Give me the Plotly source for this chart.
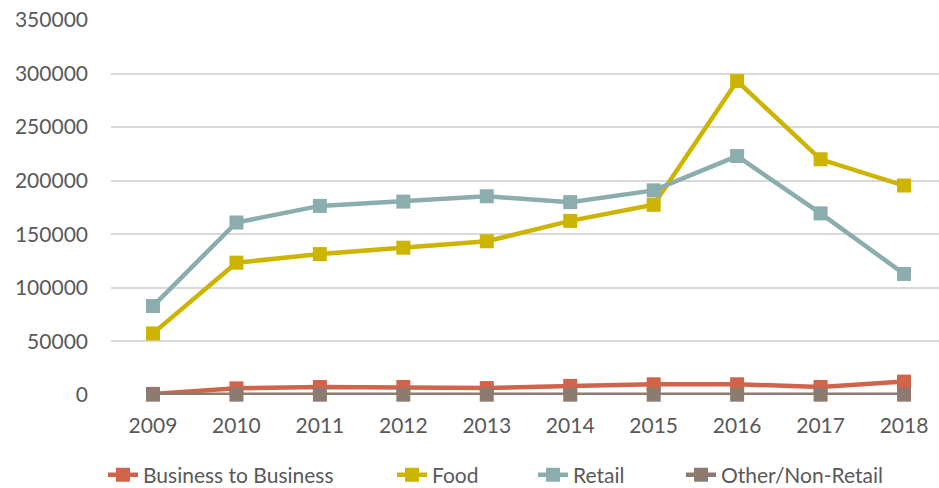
import plotly.graph_objects as go

years = ["2009", "2010", "2011", "2012", "2013", "2014", "2015", "2016", "2017", "2018"]
b2b = [1000, 6200, 7500, 7500, 6500, 8500, 10000, 10000, 7500, 12500]
food = [57500, 123500, 131500, 137500, 143500, 162500, 177500, 293000, 220000, 195500]
retail = [83000, 161000, 176500, 180500, 185500, 180000, 191000, 223000, 169500, 113000]
other = [300, 300, 300, 300, 300, 300, 300, 300, 300, 300]

series = [
    ("Business to Business", b2b, "#D0644B", "legend", 103),
    ("Food", food, "#CDB400", "legend2", 392),
    ("Retail", retail, "#8CADAD", "legend3", 533),
    ("Other/Non-Retail", other, "#8D7B6F", "legend4", 681),
]

fig = go.Figure()
font = dict(family="Lato, Carlito, sans-serif", size=21, color="#595959")
legfont = dict(family="Lato, Carlito, sans-serif", size=21, color="#595959")
legends = {}
for name, vals, color, leg, lx in series:
    fig.add_trace(go.Scatter(
        x=years, y=vals, name=name, mode="lines+markers",
        line=dict(color=color, width=4.5),
        marker=dict(symbol="square", size=14, color=color),
        cliponaxis=False, legend=leg,
    ))
    legends[leg] = dict(orientation="h", xref="container", yref="paper",
                        x=lx / 939, xanchor="left", y=(395 - 475) / 375, yanchor="middle",
                        font=legfont, bgcolor="rgba(0,0,0,0)")

fig.update_layout(
    width=939, height=488,
    margin=dict(l=111, r=0, t=20, b=93, autoexpand=False),
    plot_bgcolor="white", paper_bgcolor="white",
    font=font,
    showlegend=True,
    **legends,
)
fig.update_xaxes(type="category", range=[-0.503, 9.419], showgrid=False,
                 showline=False, zeroline=False, ticks="", ticklabelstandoff=16,
                 tickfont=font, automargin=False)
fig.update_yaxes(range=[0, 350000], dtick=50000, showgrid=True, gridcolor="#D9D9D9",
                 gridwidth=1.5, zeroline=False, showline=False, ticks="",
                 ticklabelstandoff=22, tickfont=font, tickformat="d", automargin=False)

fig.write_html("out.html", config={"displayModeBar": False},
               post_script="document.body.style.margin='0';")
